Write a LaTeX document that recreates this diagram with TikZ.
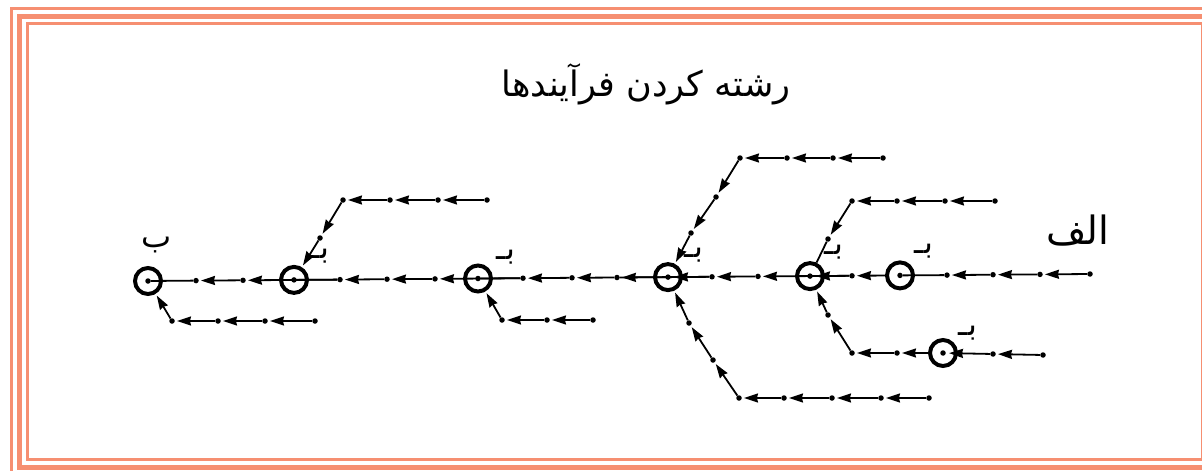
\documentclass[tikz,border=0pt]{standalone}
\usepackage{fontspec}
\usetikzlibrary{arrows.meta}
\newfontfamily\arabicfont[Script=Arabic]{DejaVu Sans}
\TeXXeTstate=1
\definecolor{framec}{RGB}{246,143,113}
\tikzset{
  dotn/.style={circle,fill=black,inner sep=0pt,minimum size=5.5pt},
  proc/.style={circle,draw=black,line width=4pt,inner sep=0pt,minimum size=26pt},
  flow/.style={line width=1.8pt,-{Stealth[length=14pt,width=9pt,inset=1pt]},shorten >=2pt},
  flowc/.style={line width=1.8pt,-{Stealth[length=14pt,width=9pt,inset=1pt]},shorten >=3pt},
  link/.style={line width=1.8pt},
  lbl/.style={font=\arabicfont\fontsize{32}{34}\selectfont,inner sep=0pt},
  ttl/.style={font=\arabicfont\fontsize{35}{38}\selectfont,inner sep=0pt},
  big/.style={font=\arabicfont\fontsize{39}{42}\selectfont,inner sep=0pt},
}
\begin{document}
\begin{tikzpicture}[x=1pt,y=-1pt]
\useasboundingbox (0,0) rectangle (1202,471);
\fill[white] (0,0) rectangle (1202,471);
% frame
\draw[framec,line width=3pt] (11.5,8) rectangle (1220,490);
\draw[framec,line width=5pt] (19.5,16) rectangle (1212,467.5);
\draw[framec,line width=3pt] (27.5,23.5) rectangle (1202,459.5);

% title
\node[ttl] (title) at (646,84) {\beginR رشته کردن فرآیندها\endR};

% process circles
\node[proc] (c1) at (148,281) {};
\node[proc] (c2) at (294,279.9) {};
\node[proc] (c3) at (478,278.5) {};
\node[proc] (c4) at (668,277.1) {};
\node[proc] (c5) at (810,276.1) {};
\node[proc] (c6) at (900,275.4) {};
\node[proc] (c7) at (943,353) {};
\foreach \c in {c1,c2,c3,c4,c5,c6,c7} \node[dotn] (\c d) at (\c.center) {};

% main line dots
\node[dotn] (m1) at (196,280.6) {};
\node[dotn] (m2) at (243,280.3) {};
\node[dotn] (m4) at (340,279.6) {};
\node[dotn] (m5) at (387,279.2) {};
\node[dotn] (m6) at (435,278.9) {};
\node[dotn] (m8) at (523,278.2) {};
\node[dotn] (m9) at (572,277.8) {};
\node[dotn] (m10) at (617,277.5) {};
\node[dotn] (m12) at (712,276.8) {};
\node[dotn] (m13) at (758,276.4) {};
\node[dotn] (m15) at (852,275.8) {};
\node[dotn] (m17) at (947,275.1) {};
\node[dotn] (m18) at (993,274.7) {};
\node[dotn] (m19) at (1040,274.4) {};
\node[dotn] (m20) at (1090,274.0) {};

% C1 lower branch
\node[dotn] (a1) at (172,321) {};
\node[dotn] (a2) at (218,321) {};
\node[dotn] (a3) at (265,321) {};
\node[dotn] (a4) at (315,321) {};
% C2 upper branch
\node[dotn] (b0) at (320,238) {};
\node[dotn] (b1) at (343,200) {};
\node[dotn] (b2) at (390,200) {};
\node[dotn] (b3) at (438,200) {};
\node[dotn] (b4) at (487,200) {};
% C3 lower branch
\node[dotn] (e1) at (502,320) {};
\node[dotn] (e2) at (547,320) {};
\node[dotn] (e3) at (593,320) {};
% C4 upper branch
\node[dotn] (f0) at (691,233) {};
\node[dotn] (f00) at (716,197) {};
\node[dotn] (f1) at (740,158) {};
\node[dotn] (f2) at (787,158) {};
\node[dotn] (f3) at (833,158) {};
\node[dotn] (f4) at (883,158) {};
% C4 lower branch
\node[dotn] (g0) at (689,323) {};
\node[dotn] (g00) at (713,360) {};
\node[dotn] (g1) at (739,398) {};
\node[dotn] (g2) at (784,398) {};
\node[dotn] (g3) at (832,398) {};
\node[dotn] (g4) at (881,398) {};
\node[dotn] (g5) at (929,398) {};
% C5 upper branch
\node[dotn] (h0) at (828,239) {};
\node[dotn] (h1) at (852,201) {};
\node[dotn] (h2) at (897,201) {};
\node[dotn] (h3) at (945,201) {};
\node[dotn] (h4) at (995,201) {};
% C5 lower branch
\node[dotn] (k0) at (828,315) {};
\node[dotn] (k1) at (852,353) {};
\node[dotn] (k2) at (897,353) {};
\node[dotn] (k4) at (993,354) {};
\node[dotn] (k5) at (1043,355) {};

% main line flows
\foreach \a/\b in {m20/m19,m19/m18,m18/m17,m15/m13,m13/m12,m12/m10,m10/m9,m9/m8,m8/m6,m6/m5,m5/m4,m4/m2,m2/m1}
  \draw[flow] (\a) -- (\b);
\draw[link] (m17) -- (c6d);
\draw[flow] (c6) -- (m15);
\draw[flowc] (m15) -- (c5d);
\draw[flowc] (m12) -- (c4d);
\draw[link] (m10) -- (c4d);
\draw[link] (m8) -- (c3d);
\draw[link] (m4) -- (c2d);
\draw[link] (m1) -- (c1d);

% branches
\foreach \a/\b in {a4/a3,a3/a2,a2/a1,
                   b4/b3,b3/b2,b2/b1,b1/b0,
                   e3/e2,e2/e1,
                   f4/f3,f3/f2,f2/f1,f1/f00,f00/f0,
                   g5/g4,g4/g3,g3/g2,g2/g1,g1/g00,g00/g0,
                   h4/h3,h3/h2,h2/h1,h1/h0,
                   k5/k4,k2/k1,k1/k0}
  \draw[flow] (\a) -- (\b);
\draw[flow] (a1) -- (c1);
\draw[flow] (b0) -- (c2);
\draw[flow] (e1) -- (c3);
\draw[flow] (f0) -- (c4);
\draw[flow] (g0) -- (c4);
\draw[link] (h0) -- (c5);
\draw[flow] (k0) -- (c5);
\draw[flowc] (k4) -- (c7d);
\draw[flow] (c7) -- (k2);

% labels
\node[lbl] (l1) at (157,245) {\beginR ب\endR};
\node[lbl] (l2) at (320,256) {\beginR بـ\endR};
\node[lbl] (l3) at (506,257) {\beginR بـ\endR};
\node[lbl] (l4) at (694,255) {\beginR بـ\endR};
\node[lbl] (l5) at (834,252) {\beginR بـ\endR};
\node[lbl] (l6) at (924,251) {\beginR بـ\endR};
\node[lbl] (l7) at (968,333) {\beginR بـ\endR};
\node[big] (alef) at (1078,231) {\beginR الف\endR};
\end{tikzpicture}
\end{document}
